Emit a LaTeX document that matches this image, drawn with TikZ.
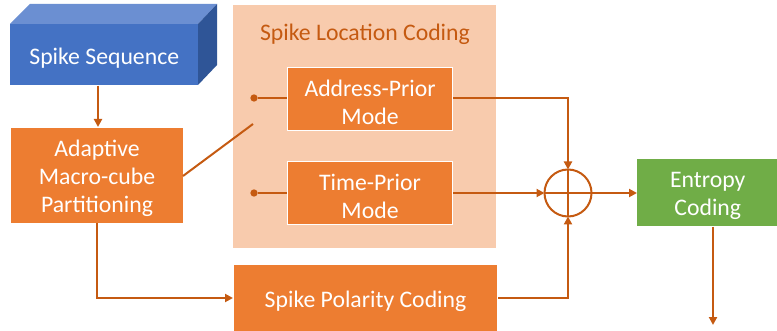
\documentclass[tikz,border=0pt]{standalone}
\usepackage{fontspec}
\setmainfont{Carlito}
\usetikzlibrary{arrows.meta,calc}
\definecolor{boxorange}{HTML}{ED7D31}
\definecolor{lineorange}{HTML}{C55A11}
\definecolor{paleorange}{HTML}{F8CBAD}
\definecolor{cubefront}{HTML}{4472C4}
\definecolor{cubetop}{HTML}{6B8FD2}
\definecolor{cubeside}{HTML}{2F5597}
\definecolor{entropygreen}{HTML}{70AD47}
\tikzset{
  txt/.style={font=\fontsize{17.8}{21}\selectfont},
  blk/.style={fill=boxorange, draw=white, line width=0.8pt, inner sep=0pt, anchor=north west},
  caption/.style={text=white, align=center, txt, inner sep=0pt, yshift=-2.3pt},
  wire/.style={draw=lineorange, line width=1.5pt},
  arr/.style={wire, -{Triangle[length=6pt,width=6pt]}},
  pin/.style={circle, fill=lineorange, inner sep=0pt, minimum size=5.5pt},
}
\begin{document}
\begin{tikzpicture}[x=0.75pt,y=-0.75pt]
\useasboundingbox (0,0) rectangle (777,331);

% grouping panel for the location coders
\node[fill=paleorange, minimum width=263*0.75pt, minimum height=243*0.75pt,
  inner sep=0pt, anchor=north west] (panel) at (233,5) {};
\node[text=lineorange, txt] (paneltitle) at (365,34) {Spike Location Coding};

% input cube
\fill[cubetop] (10,24) -- (30,4) -- (217,4) -- (198,24) -- cycle;
\fill[cubeside] (198,24) -- (217,4) -- (217,65) -- (198,85) -- cycle;
\node[fill=cubefront, minimum width=188*0.75pt, minimum height=61*0.75pt, inner sep=0pt,
  anchor=north west] (seq) at (10,24) {};
\node[caption] (seqtext) at (seq.center) {Spike Sequence};

% processing blocks
\node[blk, minimum width=173*0.75pt, minimum height=96*0.75pt] (amp) at (10,127) {};
\node[caption] (amptext) at (amp.center) {Adaptive\\Macro-cube\\Partitioning};
\node[blk, minimum width=165*0.75pt, minimum height=63*0.75pt] (apm) at (287,67) {};
\node[caption] (apmtext) at (apm.center) {Address-Prior\\Mode};
\node[blk, minimum width=165*0.75pt, minimum height=63*0.75pt] (tpm) at (287,161) {};
\node[caption] (tpmtext) at (tpm.center) {Time-Prior\\Mode};
\node[blk, minimum width=264*0.75pt, minimum height=67*0.75pt] (pol) at (233,264) {};
\node[caption] (poltext) at (pol.center) {Spike Polarity Coding};
\node[fill=entropygreen, minimum width=141*0.75pt, minimum height=67*0.75pt, inner sep=0pt,
  anchor=north west] (ent) at (637,159) {};
\node[caption] (enttext) at (ent.center) {Entropy\\Coding};

% summing junction
\coordinate (sumc) at (568,193);
\draw[wire] (sumc) circle[radius=23.5*0.75pt];
\draw[wire] ($(sumc)+(-23.5,0)$) -- ($(sumc)+(23.5,0)$);
\draw[wire] ($(sumc)+(0,-23.5)$) -- ($(sumc)+(0,23.5)$);
\coordinate (sumN) at (568,169.5);
\coordinate (sumS) at (568,216.5);
\coordinate (sumW) at (544.5,193);
\coordinate (sumE) at (591.5,193);

% switch contacts
\node[pin] (p1) at (254,98) {};
\node[pin] (p2) at (254,193) {};
\coordinate (swend) at (253,124);
\coordinate (ampout) at (183,176);

% connectors
\draw[arr] (seq.south -| 98,0) -- (98,127);
\draw[wire] (ampout) -- (swend);
\draw[wire] (p1) -- (apm.west |- p1);
\draw[wire] (p2) -- (tpm.west |- p2);
\draw[arr] (apm.east |- 0,98) -| (sumN);
\draw[arr] (tpm.east |- 0,193) -- (sumW);
\draw[arr] (pol.east |- 0,298) -| (sumS);
\draw[arr] (sumE) -- (ent.west |- sumE);
\draw[arr] (97,223) |- (pol.west |- 0,298);
\coordinate (outend) at (713,325);
\draw[arr] (ent.south -| outend) -- (outend);
\end{tikzpicture}
\end{document}
